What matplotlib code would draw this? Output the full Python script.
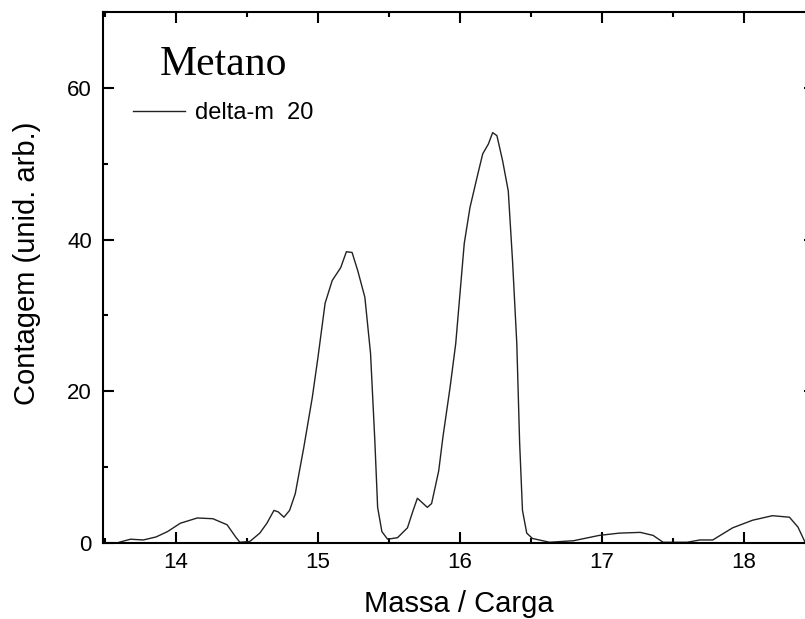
import matplotlib.pyplot as plt
from matplotlib.ticker import MultipleLocator

# --------------------------------------------------
# Data
# --------------------------------------------------
mass = [13.60, 13.68, 13.77, 13.86, 13.94, 14.03, 14.15, 14.26, 14.36, 14.42,
        14.45, 14.52, 14.59, 14.64, 14.69, 14.72, 14.76, 14.80, 14.84, 14.90,
        14.96, 15.00, 15.05, 15.10, 15.16, 15.20, 15.24, 15.28, 15.33, 15.37,
        15.40, 15.42, 15.45, 15.49, 15.56, 15.63, 15.67, 15.70, 15.77, 15.80,
        15.85, 15.88, 15.93, 15.97, 16.00, 16.03, 16.07, 16.12, 16.16, 16.20,
        16.23, 16.26, 16.30, 16.34, 16.37, 16.40, 16.42, 16.44, 16.47, 16.51,
        16.63, 16.80, 16.98, 17.12, 17.27, 17.36, 17.43, 17.60, 17.69, 17.78,
        17.92, 18.06, 18.20, 18.32, 18.38, 18.43]
counts = [0.1, 0.5, 0.4, 0.8, 1.5, 2.6, 3.3, 3.2, 2.4, 0.8,
          0.1, 0.2, 1.3, 2.6, 4.3, 4.1, 3.4, 4.3, 6.5, 12.6,
          19.2, 24.5, 31.6, 34.6, 36.3, 38.4, 38.3, 35.9, 32.4, 25.0,
          13.6, 4.7, 1.5, 0.5, 0.7, 2.0, 4.3, 5.9, 4.7, 5.2,
          9.5, 14.0, 20.5, 26.3, 32.9, 39.5, 44.2, 48.2, 51.3, 52.6,
          54.1, 53.7, 50.4, 46.4, 37.2, 26.3, 13.2, 4.3, 1.3, 0.6,
          0.1, 0.3, 1.0, 1.3, 1.4, 1.0, 0.1, 0.1, 0.4, 0.4,
          2.0, 3.0, 3.6, 3.4, 2.1, 0.1]

x_ticks = [14, 15, 16, 17, 18]
y_ticks = [0, 20, 40, 60]

plt.rcParams['font.family'] = ['Liberation Sans', 'DejaVu Sans']

# --------------------------------------------------
# Plot
# --------------------------------------------------
fig = plt.figure(figsize=(8.05, 6.19), dpi=100)
# axes run past the right edge, as in the cropped original
ax = fig.add_axes([103 / 805, 76 / 619, 712 / 805, 531 / 619])

ax.plot(mass, counts, color="#222222", lw=1.0, label="delta-m  20")

ax.set_xlim(13.486, 18.5)
ax.set_ylim(0, 70)
ax.set_xticks(x_ticks)
ax.set_yticks(y_ticks)
ax.xaxis.set_minor_locator(MultipleLocator(0.5))
ax.yaxis.set_minor_locator(MultipleLocator(10))

ax.tick_params(which="both", direction="in", top=True, right=True,
               width=1.5, labelsize=16)
ax.tick_params(which="major", length=8)
ax.tick_params(which="minor", length=3.8)
ax.tick_params(axis="x", pad=6.5)
ax.tick_params(axis="y", pad=8)
for s in ax.spines.values():
    s.set_linewidth(1.5)

ax.set_xlabel("Massa / Carga", fontsize=21)
ax.set_ylabel("Contagem (unid. arb.)", fontsize=21)
ax.xaxis.set_label_coords(0.5, -0.088)
ax.yaxis.set_label_coords(-0.087, 0.527)

ax.text(0.080, 0.881, "Metano", transform=ax.transAxes, fontsize=30,
        family="Liberation Serif", va="baseline", ha="left")

ax.legend(loc="center left", bbox_to_anchor=(0.042, 0.81), frameon=False,
          fontsize=17, handlelength=2.2, handletextpad=0.42,
          borderpad=0, borderaxespad=0)

plt.savefig("out.png", dpi=100)
